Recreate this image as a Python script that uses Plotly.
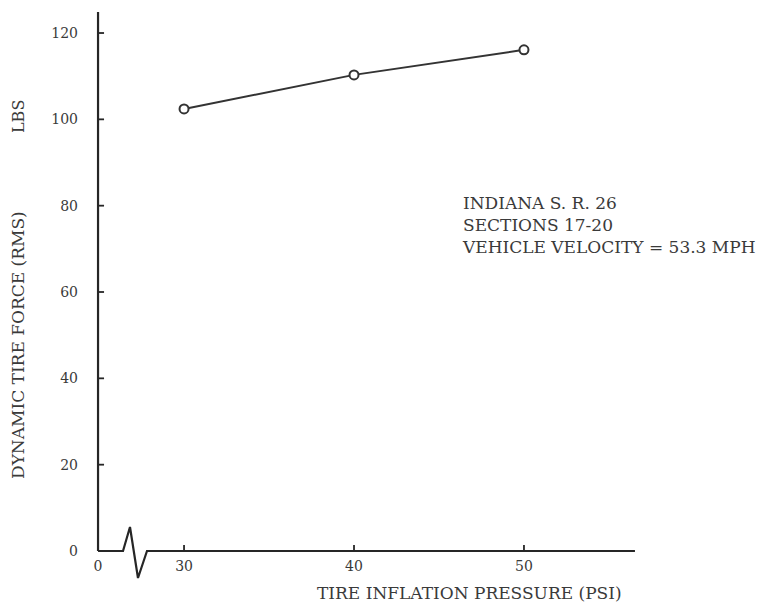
import plotly.graph_objects as go

# ---- data ----
pressure_psi = [30, 40, 50]
force_rms_lbs = [102.4, 110.3, 116.1]

x_tick_vals = [24.94, 30, 40, 50]      # first tick is the broken-axis origin labelled "0"
x_tick_text = ["0", "30", "40", "50"]
y_tick_vals = [0, 20, 40, 60, 80, 100, 120]

# axis line with break symbol (in axis units)
axis_x = [24.94, 26.41, 26.82, 27.29, 27.82, 56.53]
axis_y = [0, 0, 5.56, -6.25, 0, 0]
yaxis_top = 124.86

note_lines = ["INDIANA S. R. 26", "SECTIONS 17-20", "VEHICLE VELOCITY = 53.3 MPH"]

# ---- layout geometry ----
W, H = 772, 603
ML, MR, MT, MB = 96, 135, 10, 22
XR = [24.82, 56.65]
YR = [-6.95, 125.33]
PW, PH = W - ML - MR, H - MT - MB
X_PER_PX = (XR[1] - XR[0]) / PW
Y_PER_PX = (YR[1] - YR[0]) / PH
TICK_PX = 6

def pxx(px):
    return (px - ML) / PW

def pxy(py):
    return (H - MB - py) / PH

INK = "#262626"
TXT = "#3a3a3a"
FONT = "DejaVu Serif"

fig = go.Figure()

# y axis line
fig.add_trace(go.Scatter(x=[axis_x[0], axis_x[0]], y=[0, yaxis_top], mode="lines",
                         line=dict(color=INK, width=2.2), hoverinfo="skip", showlegend=False))
# x axis line with break
fig.add_trace(go.Scatter(x=axis_x, y=axis_y, mode="lines",
                         line=dict(color=INK, width=2.2), hoverinfo="skip", showlegend=False))

# inside tick marks as short segments
tx, ty = [], []
for v in x_tick_vals[1:]:
    tx += [v, v, None]
    ty += [0, TICK_PX * Y_PER_PX, None]
for v in y_tick_vals[1:]:
    tx += [axis_x[0], axis_x[0] + TICK_PX * X_PER_PX, None]
    ty += [v, v, None]
fig.add_trace(go.Scatter(x=tx, y=ty, mode="lines", line=dict(color=INK, width=1.8),
                         hoverinfo="skip", showlegend=False))

# data
fig.add_trace(go.Scatter(x=pressure_psi, y=force_rms_lbs, mode="lines+markers",
                         line=dict(color="#333333", width=2),
                         marker=dict(symbol="circle", size=9, color="white",
                                     line=dict(color="#333333", width=2)),
                         showlegend=False))

fig.update_layout(
    width=W, height=H,
    margin=dict(l=ML, r=MR, t=MT, b=MB),
    paper_bgcolor="white", plot_bgcolor="white",
    font=dict(family=FONT, color=TXT, size=14),
    xaxis=dict(range=XR, tickvals=x_tick_vals, ticktext=x_tick_text,
               showgrid=False, zeroline=False, showline=False, ticks="",
               anchor="free", position=(0 - YR[0]) / (YR[1] - YR[0]),
               ticklabelstandoff=5,
               tickfont=dict(family=FONT, size=14, color=TXT)),
    yaxis=dict(range=YR, tickvals=y_tick_vals,
               showgrid=False, zeroline=False, showline=False, ticks="",
               anchor="free", position=(axis_x[0] - XR[0]) / (XR[1] - XR[0]),
               ticklabelstandoff=20,
               tickfont=dict(family=FONT, size=14, color=TXT)),
    annotations=[
        dict(text="TIRE INFLATION PRESSURE (PSI)", xref="paper", yref="paper",
             x=pxx(469), y=pxy(593), xanchor="center", yanchor="middle",
             showarrow=False, font=dict(family=FONT, size=17, color=TXT)),
        dict(text="DYNAMIC TIRE FORCE (RMS)", xref="paper", yref="paper",
             x=pxx(18), y=pxy(345), xanchor="center", yanchor="middle", textangle=-90,
             showarrow=False, font=dict(family=FONT, size=17, color=TXT)),
        dict(text="LBS", xref="paper", yref="paper",
             x=pxx(18), y=pxy(117), xanchor="center", yanchor="middle", textangle=-90,
             showarrow=False, font=dict(family=FONT, size=16, color=TXT)),
        dict(text="<br>".join(note_lines), xref="paper", yref="paper",
             x=pxx(460), y=pxy(225), xanchor="left", yanchor="middle", align="left",
             showarrow=False, font=dict(family=FONT, size=17, color=TXT)),
    ],
)

fig.write_html("out.html")
